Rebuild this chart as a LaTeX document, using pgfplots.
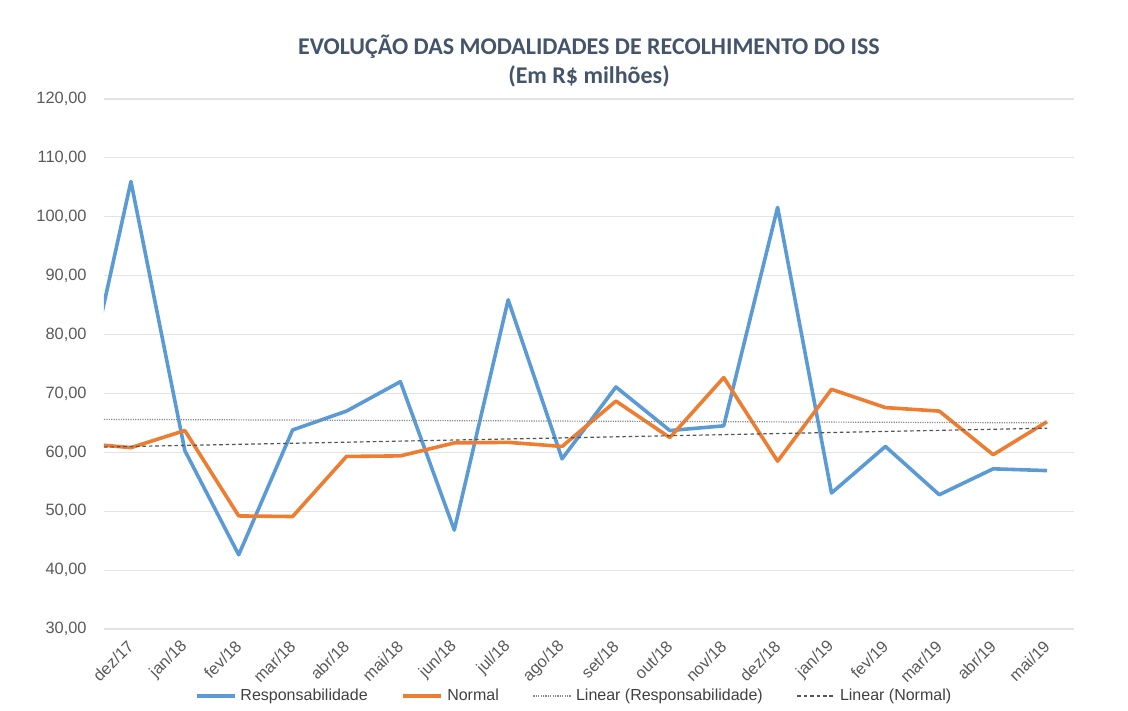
\documentclass[border=0pt]{standalone}
\usepackage{pgfplots}
\pgfplotsset{compat=1.18}
\usepackage{fontspec}
\setmainfont{Liberation Sans}
\newfontfamily\titlefont{Carlito}
\definecolor{respc}{HTML}{5B9BD5}
\definecolor{normc}{HTML}{ED7D31}
\definecolor{gridc}{HTML}{E3E3E3}
\definecolor{tickc}{HTML}{595959}
\definecolor{legc}{HTML}{404040}
\definecolor{titlec}{HTML}{44546A}
\definecolor{trendc}{HTML}{555555}
\begin{document}
\begin{tikzpicture}
\begin{axis}[
  scale only axis, width=485pt, height=265pt,
  xmin=-0.5, xmax=17.5, ymin=30, ymax=120,
  xtick={0,...,17},
  xticklabels={dez/17,jan/18,fev/18,mar/18,abr/18,mai/18,jun/18,jul/18,ago/18,set/18,out/18,nov/18,dez/18,jan/19,fev/19,mar/19,abr/19,mai/19},
  ytick={30,40,...,120},
  yticklabels={{30,00},{40,00},{50,00},{60,00},{70,00},{80,00},{90,00},{100,00},{110,00},{120,00}},
  ymajorgrids,
  major grid style={draw=gridc, line width=0.6pt},
  axis line style={draw=none},
  major tick length=0pt,
  tick label style={font=\fontsize{8.2}{9}\selectfont, text=tickc},
  xticklabel style={xshift=0.7pt, rotate=45, anchor=east, inner sep=1pt},
  xticklabel shift=6.5pt,
  yticklabel style={anchor=east, inner sep=0pt, xshift=-8.5pt},
  legend style={at={(0.4856,-0.1264)}, anchor=center, legend columns=-1, draw=none, fill=none,
    font=\fontsize{8}{9}\selectfont, text=legc,
    /tikz/every even column/.append style={column sep=15pt}},
  legend image code/.code={\draw[#1] (0pt,0pt) -- (19pt,0pt);},
]
\addplot[respc, line width=1.8pt, line join=round] coordinates {
(-1,64.5) (0,106.0) (1,60.3) (2,42.6) (3,63.8) (4,67.0) (5,72.0) (6,46.8) (7,85.9) (8,58.9)
(9,71.1) (10,63.7) (11,64.5) (12,101.6) (13,53.1) (14,61.0) (15,52.8) (16,57.2) (17,56.9)};
\addlegendentry{Responsabilidade}
\addplot[normc, line width=1.8pt, line join=round] coordinates {
(-1,61.6) (0,60.8) (1,63.7) (2,49.2) (3,49.1) (4,59.3) (5,59.4) (6,61.6) (7,61.7) (8,61.0)
(9,68.7) (10,62.5) (11,72.7) (12,58.5) (13,70.7) (14,67.6) (15,67.0) (16,59.6) (17,65.2)};
\addlegendentry{Normal}
\addplot[trendc!70, line width=0.6pt, dash pattern=on 0.6pt off 0.6pt] coordinates {(-0.5,65.6) (17,65.0)};
\addlegendentry{Linear (Responsabilidade)}
\addplot[trendc, line width=0.6pt, dash pattern=on 1.8pt off 1.4pt] coordinates {(-0.5,60.9) (17,64.1)};
\addlegendentry{Linear (Normal)}
\coordinate (tt) at (rel axis cs:0.5,1);
\coordinate (sw) at (rel axis cs:0,0);
\end{axis}
\node[font=\titlefont\bfseries\fontsize{12}{14}\selectfont, text=titlec] at ([yshift=26pt]tt) {EVOLUÇÃO DAS MODALIDADES DE RECOLHIMENTO DO ISS};
\node[font=\titlefont\bfseries\fontsize{12}{14}\selectfont, text=titlec] at ([yshift=11.5pt]tt) {(Em R\$ milhões)};
\pgfresetboundingbox
\path ([shift={(-52pt,-41pt)}]sw) rectangle ++(564pt,355.5pt);
\end{tikzpicture}
\end{document}
